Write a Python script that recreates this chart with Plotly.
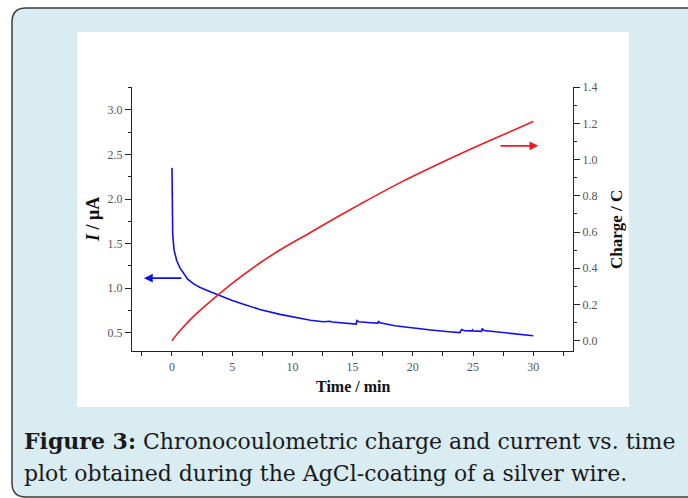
import plotly.graph_objects as go

# ---------------- data ----------------
time_current = [0, 0.005, 0.01, 0.03, 0.06, 0.17, 0.39, 0.65, 0.94, 1.3, 1.77, 2.3, 2.88,
                3.85, 5.0, 6.0, 7.3, 8.97, 10.0, 11.5, 12.57, 12.85, 13.1, 13.3, 14.5,
                15.3, 15.35, 15.5, 16.5, 17.1, 17.15, 17.3, 18.5, 20.0, 21.5, 23.0, 23.9,
                24.05, 24.3, 24.9, 24.95, 25.0, 25.7, 25.75, 25.9, 26.5, 27.5, 28.5, 29.3, 30.0]
current_uA = [2.35, 2.15, 2.0, 1.75, 1.6, 1.43, 1.31, 1.23, 1.165, 1.10, 1.05, 1.01, 0.977,
              0.92, 0.86, 0.815, 0.76, 0.705, 0.675, 0.64, 0.622, 0.628, 0.628, 0.62, 0.605,
              0.596, 0.635, 0.622, 0.612, 0.607, 0.625, 0.61, 0.578, 0.55, 0.53, 0.51, 0.50,
              0.535, 0.522, 0.52, 0.53, 0.52, 0.515, 0.545, 0.525, 0.515, 0.50, 0.485, 0.475, 0.465]

time_charge = [0, 0.5, 1.0, 1.77, 3.85, 5.0, 7.3, 9.0, 11.46, 13.5, 15.6, 18.94, 22.0, 25.0, 27.5, 30.0]
charge_C = [0.0, 0.042, 0.08, 0.133, 0.254, 0.317, 0.429, 0.502, 0.596, 0.675, 0.753, 0.873,
            0.972, 1.064, 1.137, 1.211]

x_ticks = [0, 5, 10, 15, 20, 25, 30]
caption_line1 = "<b>Figure 3:</b> Chronocoulometric charge and current vs. time"
caption_line2 = "plot obtained during the AgCl-coating of a silver wire."

# ---------------- layout helpers ----------------
W, H = 688, 498
L, R, T, B = 132, 573, 87, 351   # plot area in pixels


def X(px):
    return (px - L) / (R - L)


def Y(py):
    return (B - py) / (B - T)


serif = "Liberation Serif"
blue = "#1212e6"
red = "#ee1c24"

fig = go.Figure()
fig.add_trace(go.Scatter(x=time_charge, y=charge_C, mode="lines", yaxis="y2",
                         line=dict(color=red, width=1.6, shape="spline", smoothing=0.8),
                         showlegend=False, hoverinfo="skip"))
fig.add_trace(go.Scatter(x=time_current, y=current_uA, mode="lines", yaxis="y",
                         line=dict(color=blue, width=1.6),
                         showlegend=False, hoverinfo="skip"))

# background box with rounded corners and white panel
r = 14
box = (f"M {X(12 + r)},{Y(8)} L {X(720)},{Y(8)} L {X(720)},{Y(497)} L {X(12 + r)},{Y(497)} "
       f"Q {X(12)},{Y(497)} {X(12)},{Y(497 - r)} L {X(12)},{Y(8 + r)} "
       f"Q {X(12)},{Y(8)} {X(12 + r)},{Y(8)} Z")
shapes = [
    dict(type="path", xref="paper", yref="paper", path=box, fillcolor="#d8ecf1",
         line=dict(color="#3c3c3c", width=1.5), layer="below"),
    dict(type="rect", xref="paper", yref="paper", x0=X(77), x1=X(629), y0=Y(407), y1=Y(32),
         fillcolor="white", line=dict(width=0), layer="below"),
]

axis_common = dict(showline=True, linecolor="#222", linewidth=1.4, ticks="outside",
                   tickcolor="#222", tickwidth=1.2, showgrid=False, zeroline=False,
                   tickfont=dict(family=serif, size=12, color="#555"))

annotations = [
    # arrows
    dict(x=-2.33, y=1.112, ax=0.91, ay=1.112, xref="x", yref="y", axref="x", ayref="y",
         showarrow=True, arrowhead=2, arrowsize=1.1, arrowwidth=1.6, arrowcolor=blue, text=""),
    dict(x=30.42, y=1.076, ax=27.16, ay=1.076, xref="x", yref="y2", axref="x", ayref="y2",
         showarrow=True, arrowhead=2, arrowsize=1.1, arrowwidth=1.6, arrowcolor=red, text=""),
    # axis titles
    dict(x=X(353), y=Y(387), xref="paper", yref="paper", showarrow=False,
         xanchor="center", yanchor="middle",
         text="<b>Time / min</b>", font=dict(family=serif, size=16, color="#111")),
    dict(x=X(93), y=Y(220), xref="paper", yref="paper", showarrow=False, textangle=-90,
         xanchor="center", yanchor="middle",
         text="<b><i>I</i> / μA</b>", font=dict(family=serif, size=18, color="#111")),
    dict(x=X(616), y=Y(230), xref="paper", yref="paper", showarrow=False, textangle=-90,
         xanchor="center", yanchor="middle",
         text="<b>Charge / C</b>", font=dict(family=serif, size=17, color="#111")),
    # caption
    dict(x=X(22), y=Y(441), xref="paper", yref="paper", showarrow=False, xanchor="left",
         yanchor="middle", text=caption_line1,
         font=dict(family="DejaVu Serif", size=22, color="#1a1a1a")),
    dict(x=X(22), y=Y(473), xref="paper", yref="paper", showarrow=False, xanchor="left",
         yanchor="middle", text=caption_line2,
         font=dict(family="DejaVu Serif", size=22, color="#1a1a1a")),
]

fig.update_layout(
    width=W, height=H,
    margin=dict(l=L, r=W - R, t=T, b=H - B, autoexpand=False),
    paper_bgcolor="white", plot_bgcolor="rgba(0,0,0,0)",
    shapes=shapes, annotations=annotations, showlegend=False,
    xaxis=dict(range=[-3.32, 33.3], tickmode="array", tickvals=x_ticks,
               ticklen=4, minor=dict(dtick=2.5, tick0=0, ticklen=4, ticks="outside",
                                     tickcolor="#222", tickwidth=1.2),
               **axis_common),
    yaxis=dict(range=[0.294, 3.258], dtick=0.5, tick0=0, tickformat=".1f", ticklen=6,
               minor=dict(dtick=0.25, tick0=0, ticklen=3, ticks="outside",
                          tickcolor="#222", tickwidth=1.2),
               **axis_common),
    yaxis2=dict(range=[-0.057, 1.401], dtick=0.2, tick0=0, tickformat=".1f", ticklen=6,
                overlaying="y", side="right", anchor="x",
                minor=dict(dtick=0.1, tick0=0, ticklen=3, ticks="outside",
                           tickcolor="#222", tickwidth=1.2),
                **axis_common),
)

fig.write_html("out.html", config={"displayModeBar": False},
               post_script="document.body.style.margin='0px';")
